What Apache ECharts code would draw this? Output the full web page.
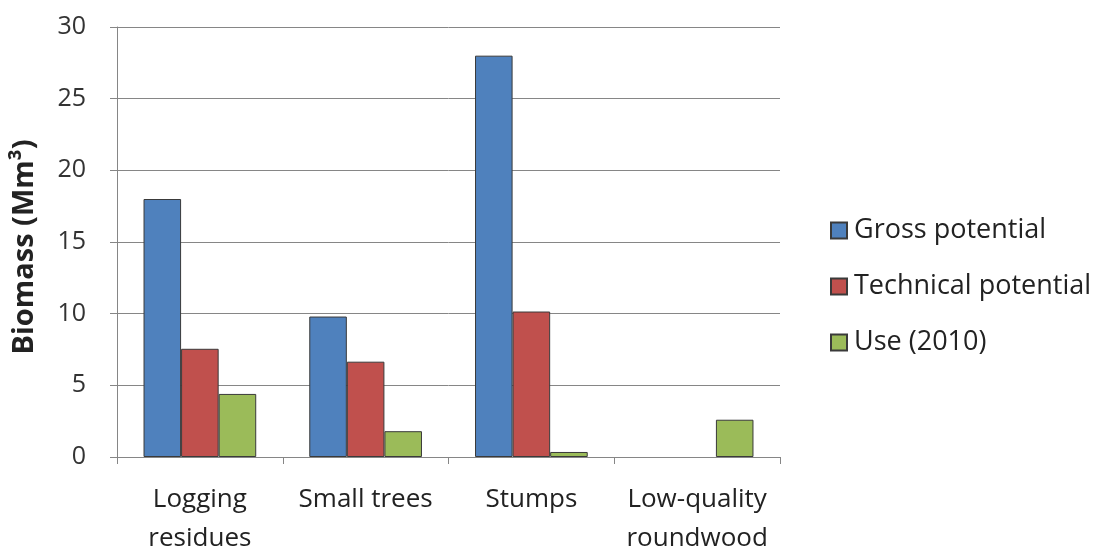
<!DOCTYPE html>
<html><head><meta charset="utf-8">
<script src="https://cdn.jsdelivr.net/npm/echarts@6/dist/echarts.min.js"></script>
<style>html,body{margin:0;padding:0;background:#fff}#c{width:1105px;height:549px}</style>
</head><body><div id="c"></div>
<script>
const categories = ["Logging\nresidues", "Small trees", "Stumps", "Low-quality\nroundwood"];
const grossPotential = [18.0, 9.8, 28.0, 0];
const technicalPotential = [7.55, 6.65, 10.15, 0];
const use2010 = [4.4, 1.8, 0.35, 2.6];
const yTicks = {min: 0, max: 30, interval: 5};
const seriesNames = ["Gross potential", "Technical potential", "Use (2010)"];
const colors = ["#4F81BD", "#C0504D", "#9BBB59"];

const font = "'Open Sans', 'Liberation Sans', sans-serif";
const chart = echarts.init(document.getElementById('c'));
const data = [grossPotential, technicalPotential, use2010];
chart.setOption({
  animation: false,
  textStyle: {fontFamily: font},
  grid: {left: 117, right: 325, top: 27, bottom: 92, containLabel: false, outerBoundsMode: 'none'},
  legend: {
    orient: 'vertical', left: 825, top: 212,
    itemWidth: 16, itemHeight: 16, itemGap: 29,
    icon: 'rect',
    textStyle: {fontSize: 27, color: '#222', fontFamily: font, padding: [0, 0, 0, 2]},
    data: seriesNames
  },
  xAxis: {
    type: 'category', data: categories,
    axisLine: {lineStyle: {color: '#868686', width: 1}},
    axisTick: {show: true, length: 7, alignWithLabel: false, lineStyle: {color: '#868686'}},
    axisLabel: {fontSize: 26, color: '#222', margin: 23, lineHeight: 39, fontFamily: font, interval: 0}
  },
  yAxis: {
    type: 'value', min: yTicks.min, max: yTicks.max, interval: yTicks.interval,
    name: 'Biomass (Mm³)', nameLocation: 'middle', nameGap: 78,
    nameTextStyle: {fontSize: 29, fontWeight: 'bold', color: '#222', fontFamily: font, padding: [0, 10, 0, 0]},
    axisLine: {show: true, lineStyle: {color: '#868686', width: 1}},
    axisTick: {show: true, length: 7, lineStyle: {color: '#868686'}},
    axisLabel: {fontSize: 25, color: '#333', margin: 31, fontFamily: font},
    splitLine: {lineStyle: {color: '#868686', width: 1}}
  },
  series: seriesNames.map((n, i) => ({
    name: n, type: 'bar',
    data: data[i].map(v => v === 0 ? {value: v, itemStyle: {borderWidth: 0}} : v),
    barGap: '0%', barCategoryGap: '32%',
    itemStyle: {color: colors[i], borderColor: '#3a3a3a', borderWidth: 1}
  }))
});
</script></body></html>
